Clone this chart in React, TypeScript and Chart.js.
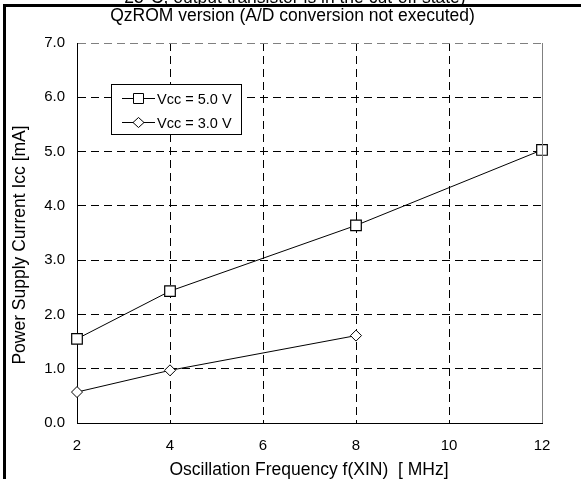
import React, { useEffect, useRef } from "react";
import { Chart, registerables } from "chart.js";

Chart.register(...registerables);

const frequencies5V = [2, 4, 8, 12];
const current5V = [1.55, 2.43, 3.64, 5.03];
const frequencies3V = [2, 4, 8];
const current3V = [0.57, 0.97, 1.61];
const xTicks = [2, 4, 6, 8, 10, 12];
const yTicks = [0, 1, 2, 3, 4, 5, 6, 7];
const seriesLabels = ["Vcc = 5.0 V", "Vcc = 3.0 V"];
const titleLine1 = "25°C, output transistor is in the cut-off state)";
const titleLine2 = "QzROM version (A/D conversion not executed)";
const xTitle = "Oscillation Frequency f(XIN)  [ MHz]";
const yTitle = "Power Supply Current Icc [mA]";

const FONT = "'Liberation Sans', Arial, sans-serif";

const decorPlugin = {
  id: "decor",
  afterDraw(chart: any) {
    const ctx = chart.ctx as CanvasRenderingContext2D;
    const area = chart.chartArea;
    ctx.save();
    // right border of plot
    ctx.strokeStyle = "#808080";
    ctx.lineWidth = 1;
    ctx.setLineDash([]);
    ctx.beginPath();
    ctx.moveTo(Math.round(area.right) + 0.5, area.top);
    ctx.lineTo(Math.round(area.right) + 0.5, area.bottom);
    ctx.stroke();

    // figure frame
    ctx.fillStyle = "#000";
    ctx.fillRect(3, 4, 3, chart.height - 4);
    ctx.fillRect(3, 4, chart.width - 3, 3);

    // titles
    ctx.fillStyle = "#000";
    ctx.textAlign = "center";
    ctx.textBaseline = "alphabetic";
    ctx.font = `17.5px ${FONT}`;
    ctx.fillText(titleLine1, 295, 3);
    ctx.textBaseline = "middle";
    ctx.fillText(titleLine2, 292.5, 16);
    ctx.fillText(xTitle, 309, 470);
    ctx.save();
    ctx.translate(20, 245);
    ctx.rotate(-Math.PI / 2);
    ctx.fillText(yTitle, 0, 0);
    ctx.restore();

    // legend
    const lx = 111, ly = 84, lw = 130, lh = 50;
    ctx.fillStyle = "#fff";
    ctx.fillRect(lx, ly, lw, lh);
    ctx.strokeStyle = "#000";
    ctx.lineWidth = 1;
    ctx.strokeRect(lx + 0.5, ly + 0.5, lw, lh);
    const rows = [98.5, 122.5];
    chart.data.datasets.forEach((ds: any, i: number) => {
      const y = rows[i];
      ctx.strokeStyle = "#000";
      ctx.beginPath();
      ctx.moveTo(122, y);
      ctx.lineTo(155, y);
      ctx.stroke();
      ctx.fillStyle = "#fff";
      ctx.beginPath();
      if (ds.pointStyle === "rect") {
        ctx.rect(133.5, y - 5, 10, 10);
      } else {
        ctx.moveTo(133, y);
        ctx.lineTo(138.5, y - 5);
        ctx.lineTo(144, y);
        ctx.lineTo(138.5, y + 5);
        ctx.closePath();
      }
      ctx.fill();
      ctx.stroke();
      ctx.fillStyle = "#000";
      ctx.textAlign = "left";
      ctx.textBaseline = "middle";
      ctx.font = `14.5px ${FONT}`;
      ctx.fillText(ds.label, 157, y + 1);
    });
    ctx.restore();
  },
};

export default function App() {
  const ref = useRef<HTMLCanvasElement>(null);
  useEffect(() => {
    if (!ref.current) return;
    const chart = new Chart(ref.current, {
      type: "line",
      data: {
        datasets: [
          {
            label: seriesLabels[0],
            data: frequencies5V.map((x, i) => ({ x, y: current5V[i] })),
            borderColor: "#000",
            borderWidth: 1,
            pointStyle: "rect",
            pointRadius: 7.5,
            pointBackgroundColor: "#fff",
            pointBorderColor: "#000",
            pointBorderWidth: 1.2,
            tension: 0,
            clip: false,
          },
          {
            label: seriesLabels[1],
            data: frequencies3V.map((x, i) => ({ x, y: current3V[i] })),
            borderColor: "#000",
            borderWidth: 1,
            pointStyle: "rectRot",
            pointRadius: 5.5,
            pointBackgroundColor: "#fff",
            pointBorderColor: "#000",
            pointBorderWidth: 1,
            tension: 0,
            clip: false,
          },
        ],
      },
      options: {
        responsive: false,
        animation: false,
        layout: { padding: { left: 0, right: 39, top: 43, bottom: 0 } },
        plugins: {
          legend: { display: false },
          title: { display: false },
          tooltip: { enabled: false },
        },
        scales: {
          x: {
            type: "linear",
            min: xTicks[0],
            max: xTicks[xTicks.length - 1],
            afterBuildTicks: (scale: any) => {
              scale.ticks = xTicks.map((v) => ({ value: v }));
            },
            afterFit: (scale: any) => {
              scale.height = 56;
            },
            ticks: {
              color: "#000",
              font: { family: FONT, size: 15 },
              padding: 14,
              maxRotation: 0,
            },
            grid: { color: "#000", lineWidth: 1, drawTicks: false },
            border: { display: true, color: "#000", width: 1, dash: [8, 5] },
          },
          y: {
            type: "linear",
            min: yTicks[0],
            max: yTicks[yTicks.length - 1],
            afterBuildTicks: (scale: any) => {
              scale.ticks = yTicks.map((v) => ({ value: v }));
            },
            afterFit: (scale: any) => {
              scale.width = 77;
            },
            ticks: {
              color: "#000",
              font: { family: FONT, size: 15 },
              padding: 12,
              callback: (v: any) => Number(v).toFixed(1),
            },
            grid: {
              color: (ctx: any) => (ctx.tick && ctx.tick.value === 7 ? "#808080" : "#000"),
              lineWidth: 1,
              drawTicks: false,
            },
            border: { display: true, color: "#000", width: 1, dash: [8, 5] },
          },
        },
      },
      plugins: [decorPlugin],
    });
    return () => chart.destroy();
  }, []);
  return (
    <div style={{ position: "absolute", left: 0, top: 0, width: 581, height: 479, background: "#fff" }}>
      <canvas ref={ref} width={581} height={479} style={{ display: "block" }} />
    </div>
  );
}
